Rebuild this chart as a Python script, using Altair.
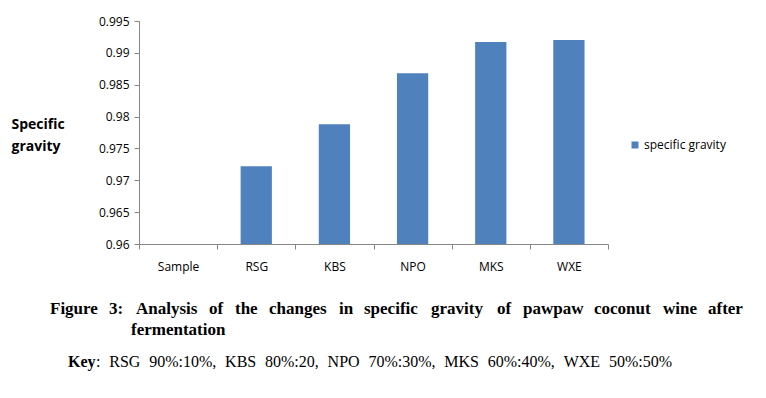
import altair as alt
import pandas as pd

# ---- data ----
categories = ["Sample", "RSG", "KBS", "NPO", "MKS", "WXE"]
specific_gravity = [0.960, 0.9722, 0.9788, 0.9868, 0.9917, 0.9920]
series_name = "specific gravity"
y_ticks = [0.96, 0.965, 0.97, 0.975, 0.98, 0.985, 0.99, 0.995]

caption_line1 = ["Figure", "3:", "Analysis", "of", "the", "changes", "in", "specific",
                 "gravity", "of", "pawpaw", "coconut", "wine", "after"]
caption_line2 = ["fermentation"]
key_bold = ["Key"]
key_tokens = [":", "RSG", "90%:10%,", "KBS", "80%:20,", "NPO", "70%:30%,",
              "MKS", "60%:40%,", "WXE", "50%:50%"]

# ---- layout (pixels relative to the plot origin) ----
ox, oy = 139, 21
line1_x = [50, 109, 136, 209, 235, 269, 339, 364, 431, 497, 523, 594, 663, 708]
line2_x = [131]
keyb_x = [68]

# justify the key line between its start and end (Times-like advance widths, per 1000 em)
_w = {**{d: 500 for d in "0123456789"}, "%": 833, ":": 278, ",": 250, "R": 667, "S": 556,
      "G": 722, "K": 722, "B": 667, "N": 722, "P": 556, "O": 722, "M": 889, "W": 944,
      "X": 722, "E": 611}
key_size = 16
key_start, key_end = 96, 672
tok_w = [sum(_w.get(c, 500) for c in t) / 1000 * key_size for t in key_tokens]
gap = (key_end - key_start - sum(tok_w)) / (len(key_tokens) - 1)
key_x = []
cur = key_start
for i, wdt in enumerate(tok_w):
    key_x.append(cur)
    cur += wdt + (gap if i < len(tok_w) - 1 else 0)

df = pd.DataFrame({"cat": categories, "val": specific_gravity, "series": series_name})

def words_df(words, xs, y):
    return pd.DataFrame({"w": words, "px": [x - ox for x in xs], "py": [y - oy] * len(words)})

axis_grey = "#868686"

bars = alt.Chart(df).mark_bar(width=alt.RelativeBandSize(0.4), clip=True).encode(
    x=alt.X("cat:N", sort=categories, title=None,
            scale=alt.Scale(paddingInner=0, paddingOuter=0),
            axis=alt.Axis(labelAngle=0, tickBand="extent", domainColor=axis_grey,
                          tickColor=axis_grey, tickSize=5, labelPadding=12,
                          labelFont="Open Sans", labelFontSize=12, labelColor="#000000",
                          grid=False)),
    y=alt.Y("val:Q", scale=alt.Scale(domain=[0.96, 0.995], zero=False, nice=False),
            axis=alt.Axis(values=y_ticks, format=".3~f", grid=False,
                          domainColor=axis_grey, tickColor=axis_grey, tickSize=5,
                          labelPadding=5, labelFont="Open Sans", labelFontSize=12,
                          labelColor="#000000",
                          title=["Specific", "gravity"], titleAngle=0, titleAlign="left",
                          titleBaseline="alphabetic", titleX=11 - ox, titleY=128 - oy,
                          titleFont="Open Sans", titleFontSize=14, titleFontWeight="bold",
                          titleLineHeight=22, titleColor="#000000")),
    color=alt.Color("series:N", scale=alt.Scale(range=["#4F81BD"]),
                    legend=alt.Legend(title=None, orient="none", legendX=629 - ox, legendY=139 - oy,
                                      symbolType="square", symbolSize=49, symbolStrokeWidth=0,
                                      labelFont="Open Sans", labelFontSize=12,
                                      labelColor="#000000", padding=0, labelOffset=3)),
)

def text_layer(d, size, weight="normal"):
    return alt.Chart(d).mark_text(align="left", baseline="alphabetic", font="Liberation Serif",
                                  fontSize=size, fontWeight=weight, color="#000000").encode(
        x=alt.X("px:Q", scale=None, axis=None),
        y=alt.Y("py:Q", scale=None, axis=None),
        text="w:N",
    )

cap1 = text_layer(words_df(caption_line1, line1_x, 314), 17, "bold")
cap2 = text_layer(words_df(caption_line2, line2_x, 335), 17, "bold")
keyb = text_layer(words_df(key_bold, keyb_x, 367), key_size, "bold")
keyr = text_layer(words_df(key_tokens, key_x, 367), key_size)

chart = alt.layer(bars, cap1, cap2, keyb, keyr).resolve_scale(
    x="independent", y="independent"
).properties(
    width=469, height=223,
    padding={"left": ox - 8, "top": oy - 8, "right": 750 - (ox - 8) - 469,
             "bottom": 382 - (oy - 8) - 223},
    autosize=alt.AutoSizeParams(type="none"),
).configure_view(stroke=None)

chart.save("out.html", embed_options={"renderer": "svg", "actions": False})
